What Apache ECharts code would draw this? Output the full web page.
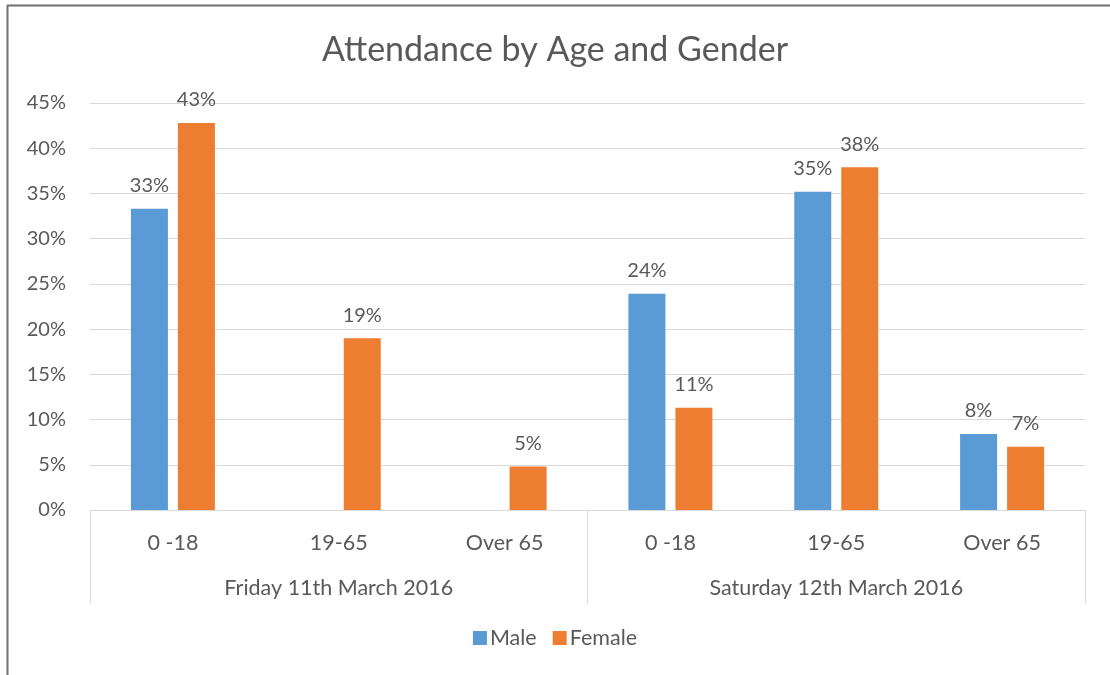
<!DOCTYPE html>
<html>
<head>
<meta charset="utf-8">
<script src="https://cdn.jsdelivr.net/npm/echarts@6/dist/echarts.min.js"></script>
<style>
html,body{margin:0;padding:0;background:#fff;}
#chart{width:1110px;height:675px;}
</style>
</head>
<body>
<div id="chart"></div>
<script>
const title = 'Attendance by Age and Gender';
const ageGroups = ['0 -18', '19-65', 'Over 65', '0 -18', '19-65', 'Over 65'];
const days = ['Friday 11th March 2016', 'Saturday 12th March 2016'];
const maleValues = [33.3, null, null, 23.9, 35.2, 8.4];
const femaleValues = [42.8, 19.0, 4.8, 11.3, 37.9, 7.0];
const yTicks = [0, 5, 10, 15, 20, 25, 30, 35, 40, 45];

const FONT = 'Lato, "Open Sans", sans-serif';
const TXT = '#595959';
const chart = echarts.init(document.getElementById('chart'));
const labelCfg = {
  show: true, position: 'top', distance: 13,
  fontFamily: FONT, fontSize: 20, color: TXT,
  formatter: p => Math.round(p.value) + '%'
};
chart.setOption({
  animation: false,
  title: {
    text: title, left: 'center', top: 28,
    textStyle: { fontFamily: FONT, fontSize: 34, fontWeight: 'normal', color: TXT }
  },
  legend: {
    bottom: 21, left: 'center', itemWidth: 14, itemHeight: 14, itemGap: 16,
    icon: 'rect',
    textStyle: { fontFamily: FONT, fontSize: 21.5, color: TXT, padding: [0, 0, 0, -2] },
    data: ['Male', 'Female']
  },
  grid: { left: 90, right: 25, top: 103, bottom: 165 },
  xAxis: [
    {
      type: 'category', data: ageGroups, position: 'bottom',
      axisLine: { show: true, lineStyle: { color: '#d9d9d9', width: 1 } },
      axisTick: { show: false },
      axisLabel: { margin: 22, fontFamily: FONT, fontSize: 21.5, color: TXT }
    },
    {
      type: 'category', data: days, position: 'bottom', offset: 0,
      axisLine: { show: false },
      axisTick: { show: true, length: 93, lineStyle: { color: '#d9d9d9', width: 1 } },
      axisLabel: { margin: 67, fontFamily: FONT, fontSize: 21.5, color: TXT },
      splitLine: { show: false }
    }
  ],
  yAxis: {
    type: 'value', min: 0, max: 45, interval: 5,
    axisLine: { show: false }, axisTick: { show: false },
    axisLabel: {
      margin: 24, fontFamily: FONT, fontSize: 20, color: TXT,
      formatter: v => yTicks.includes(v) ? v + '%' : ''
    },
    splitLine: { lineStyle: { color: '#d9d9d9', width: 1 } }
  },
  series: [
    {
      name: 'Male', type: 'bar', xAxisIndex: 0, data: maleValues,
      itemStyle: { color: '#5B9BD5' }, barWidth: 37, barGap: '27%',
      label: labelCfg
    },
    {
      name: 'Female', type: 'bar', xAxisIndex: 0, data: femaleValues,
      itemStyle: { color: '#ED7D31' }, barWidth: 37, barGap: '27%',
      label: labelCfg
    }
  ],
  graphic: [
    { type: 'line', shape: { x1: 7, y1: 5.5, x2: 1110, y2: 5.5 }, style: { stroke: '#707070', lineWidth: 2 } },
    { type: 'line', shape: { x1: 7.5, y1: 5, x2: 7.5, y2: 675 }, style: { stroke: '#707070', lineWidth: 2 } }
  ]
});
</script>
</body>
</html>
